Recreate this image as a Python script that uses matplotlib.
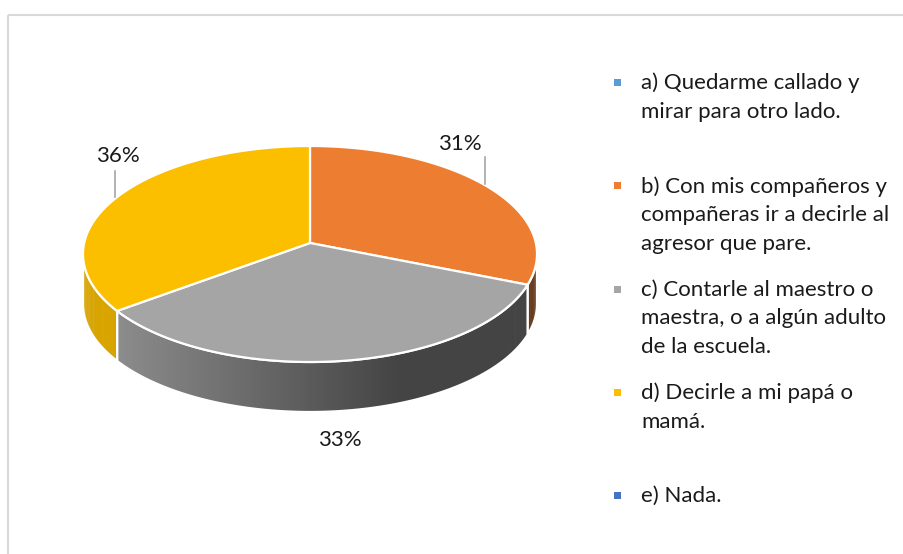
import numpy as np
import matplotlib
matplotlib.use("Agg")
import matplotlib.pyplot as plt
from matplotlib.patches import Polygon, Rectangle
from matplotlib.colors import to_rgb
import textwrap

# ---------------- data ----------------
categories = [
    "a) Quedarme callado y mirar para otro lado.",
    "b) Con mis compañeros y compañeras ir a decirle al agresor que pare.",
    "c) Contarle al maestro o maestra, o a algún adulto de la escuela.",
    "d) Decirle a mi papá o mamá.",
    "e) Nada.",
]
values = [0, 31, 33, 36, 0]
colors = ["#5B9BD5", "#ED7D31", "#A5A5A5", "#FBBF00", "#4472C4"]

# ---------------- layout (pixel space) ----------------
W, H = 904, 554
fig = plt.figure(figsize=(W / 100, H / 100), dpi=100)
ax = fig.add_axes([0, 0, 1, 1])
ax.set_xlim(0, W)
ax.set_ylim(H, 0)
ax.axis("off")

FONT = "Lato"
TXT = "#1a1a1a"
FS = 16

# chart border
ax.plot([8.5, W], [14.5, 14.5], color="#d9d9d9", lw=1.5, solid_capstyle="butt")
ax.plot([8.5, 8.5], [14.5, H], color="#d9d9d9", lw=1.5, solid_capstyle="butt")

cx, cy = 310, 254      # ellipse center
ax_x, ax_y = 310, 243  # apex (perspective)
rx, ry = 227, 108
depth = 50
k = 0.75               # perspective compression of angles


def param(a_deg):
    a = np.radians(a_deg)
    return np.degrees(np.arctan2(k * np.sin(a), np.cos(a)))


def unwrap_range(a0, a1):
    t0 = param(a0)
    t1 = param(a1)
    while t1 > t0:
        t1 -= 360
    while t0 - t1 > 360:
        t1 += 360
    return t0, t1


def pt(t_deg, dz=0.0):
    t = np.radians(t_deg)
    return cx + rx * np.cos(t), cy - ry * np.sin(t) + dz


total = sum(values)
angles = []
start = 90.0
for v in values:
    sweep = 360.0 * v / total
    angles.append((start, start - sweep))
    start -= sweep


def side_factor(t_deg):
    x = cx + rx * np.cos(np.radians(t_deg))
    f = 0.86 - (x - 110) / (400 - 110) * 0.45
    return float(np.clip(f, 0.41, 0.86))


# sides (front half: params between -180 and 0)
for (a0, a1), v, c in zip(angles, values, colors):
    if v == 0:
        continue
    t0, t1 = unwrap_range(a0, a1)
    base = np.array(to_rgb(c))
    for shift in (0, 360, -360):
        s0, s1 = t0 + shift, t1 + shift
        lo = max(s1, -180.0)
        hi = min(s0, 0.0)
        if hi <= lo:
            continue
        n = max(int((hi - lo) / 0.7), 2)
        ts = np.linspace(hi, lo, n + 1)
        for i in range(n):
            ta, tb = ts[i], ts[i + 1]
            tm = 0.5 * (ta + tb)
            col = np.clip(base * side_factor(tm), 0, 1)
            tb2 = max(tb - 0.4, lo)
            poly = [pt(ta), pt(tb2), pt(tb2, depth), pt(ta, depth)]
            ax.add_patch(Polygon(poly, closed=True, facecolor=col,
                                 edgecolor="none", lw=0))
        top = [pt(t) for t in ts]
        bot = [pt(t, depth) for t in ts[::-1]]
        ax.add_patch(Polygon(top + bot, closed=True, facecolor="none",
                             edgecolor="white", lw=1.6, joinstyle="round"))

# top faces
for (a0, a1), v, c in zip(angles, values, colors):
    if v == 0:
        continue
    t0, t1 = unwrap_range(a0, a1)
    ts = np.linspace(t0, t1, 200)
    poly = [(ax_x, ax_y)] + [pt(t) for t in ts]
    ax.add_patch(Polygon(poly, closed=True, facecolor=c, edgecolor="white",
                         lw=1.6, joinstyle="round"))

# data labels
label_pos = {1: (460, 144), 2: (340, 440), 3: (118, 156)}
leaders = {1: ((485, 485), (157, 184)), 3: ((115, 115), (171, 197))}
for i, v in enumerate(values):
    if v == 0:
        continue
    x, y = label_pos[i]
    ax.text(x, y, f"{round(100 * v / total)}%", ha="center", va="center",
            fontsize=FS, family=FONT, color=TXT)
    if i in leaders:
        ax.plot(*leaders[i], color="#a6a6a6", lw=1.2)

# legend
leg_x, leg_y0, leg_dy, line_h = 641, 83, 103.3, 28.7
for i, (lab, c) in enumerate(zip(categories, colors)):
    y = leg_y0 + i * leg_dy
    ax.add_patch(Rectangle((614, y - 4), 7, 7, facecolor=c, edgecolor="none"))
    for j, line in enumerate(textwrap.wrap(lab, 26)):
        ax.text(leg_x, y + j * line_h, line, ha="left", va="center",
                fontsize=FS, family=FONT, color=TXT)

fig.savefig("out.png", dpi=100, facecolor="white")
